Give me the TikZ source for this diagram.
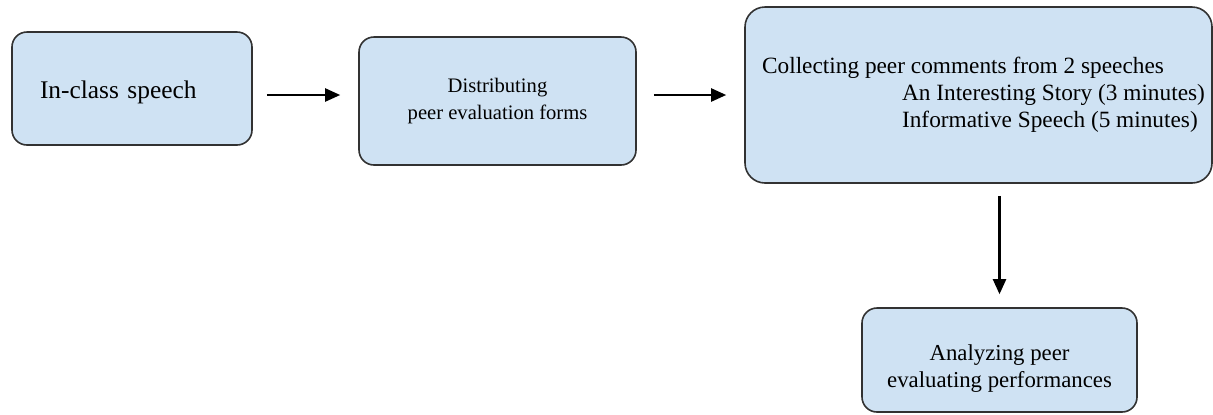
\documentclass[tikz,border=0pt]{standalone}
\usepackage{fontspec}
\setmainfont{Liberation Serif}
\usetikzlibrary{arrows.meta}
\definecolor{boxfill}{RGB}{207,226,243}
\definecolor{boxline}{RGB}{50,50,50}
\tikzset{
  procbox/.style={draw=boxline, fill=boxfill, line width=0.8pt, rounded corners=7.5pt, inner sep=0pt},
  flow/.style={-{Triangle[length=7.5pt,width=6.5pt]}, line width=1.1pt}
}
\begin{document}
\begin{tikzpicture}[x=0.5pt,y=-0.5pt]
\useasboundingbox (0,0) rectangle (1213,414);
\node[procbox, minimum width=120pt, minimum height=56.5pt, text width=92pt, inner xsep=14pt, align=left, font=\fontsize{12.7}{15}\selectfont] (speech) at (132,88.5) {\raisebox{-2pt}[\height][\depth]{In-class speech}};
\node[procbox, minimum width=138.5pt, minimum height=64pt, align=center, font=\fontsize{10.3}{13.5}\selectfont] (forms) at (497.5,101) {Distributing\\ peer evaluation forms};
\node[procbox, rounded corners=10pt, minimum width=233.5pt, minimum height=88pt, align=left, font=\fontsize{11.65}{13.5}\selectfont] (collect) at (978.5,95) {\hspace*{5pt}Collecting peer comments from 2 speeches\\ \hspace*{75pt}An Interesting Story (3 minutes)\\ \hspace*{75pt}Informative Speech (5 minutes)};
\node[procbox, minimum width=137.5pt, minimum height=52pt, font=\fontsize{11.4}{13.5}\selectfont] (analyze) at (999.5,360) {\raisebox{-4.5pt}[\height][\depth]{\begin{tabular}{@{}c@{}}Analyzing peer\\ evaluating performances\end{tabular}}};

\draw[flow, shorten <=7pt, shorten >=9pt] ([yshift=-3.25pt]speech.east) -- ([yshift=-3.25pt]speech.east -| forms.west);
\draw[flow, shorten <=8.5pt, shorten >=9pt] (collect.west -| forms.east) -- (collect.west);
\draw[flow, shorten <=6pt, shorten >=6.5pt] (analyze.north |- collect.south) -- (analyze.north);
\end{tikzpicture}
\end{document}
